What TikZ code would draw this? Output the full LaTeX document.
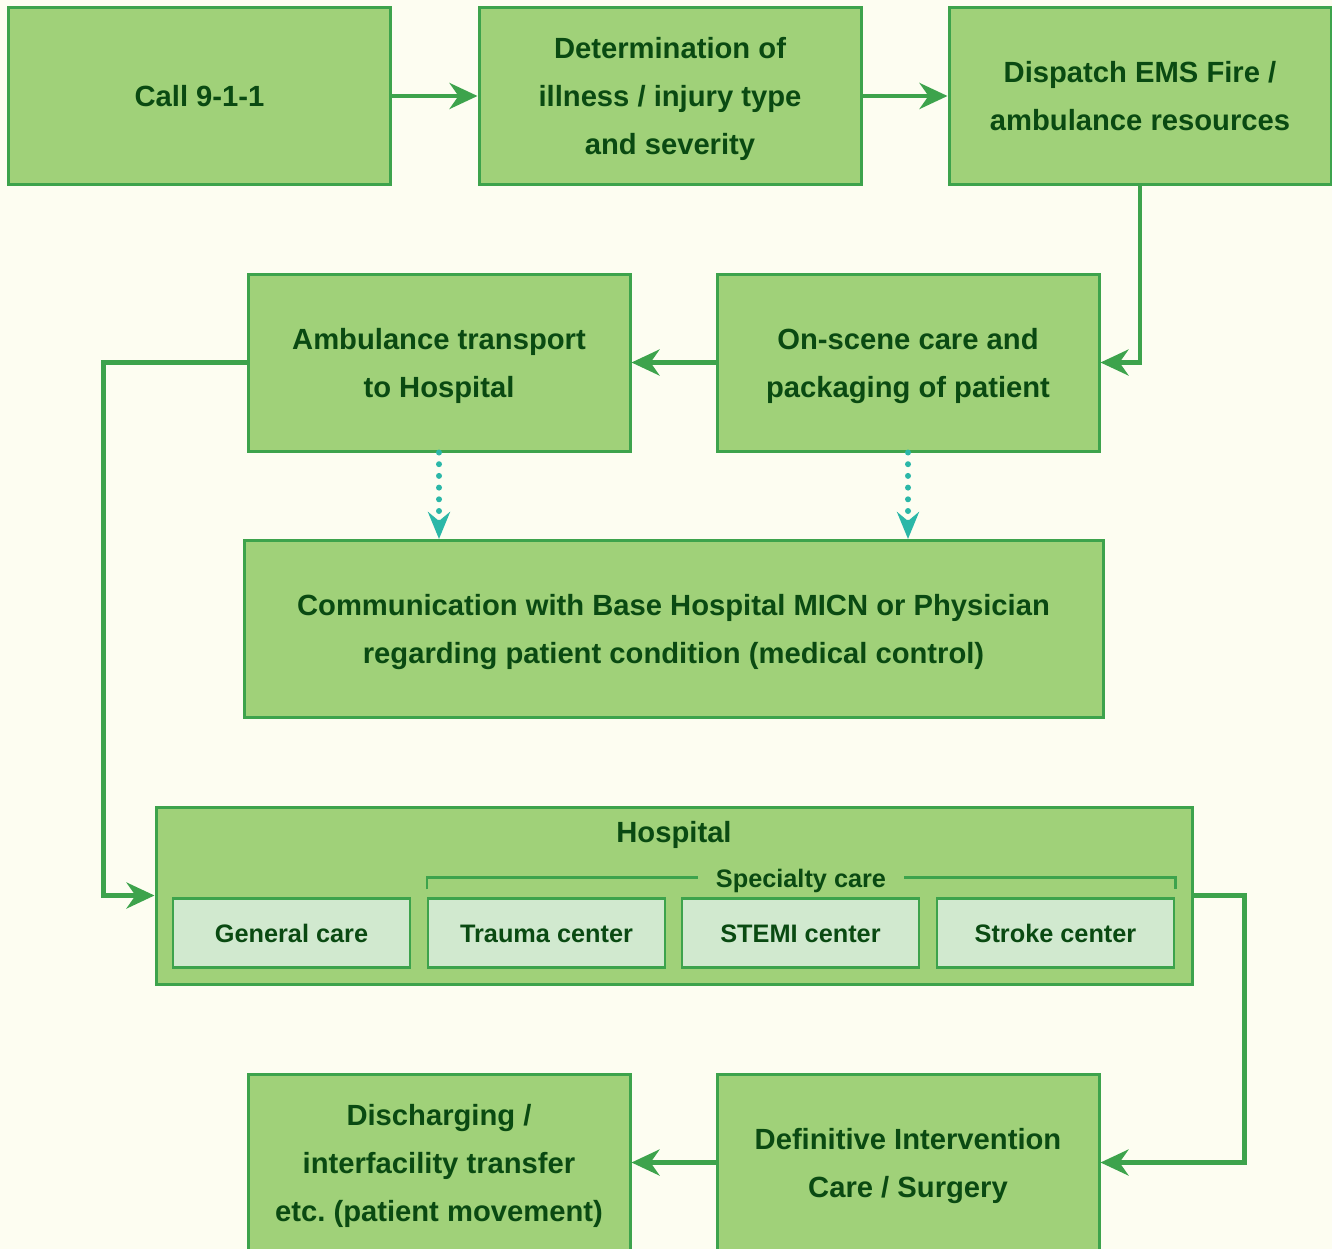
\documentclass[tikz,border=0pt]{standalone}
\usepackage{fontspec}
\setmainfont{Liberation Sans}
\usetikzlibrary{arrows.meta}
\definecolor{bg}{HTML}{FDFDF1}
\definecolor{boxfill}{HTML}{A0D179}
\definecolor{boxline}{HTML}{3DA34C}
\definecolor{txt}{HTML}{0A4A12}
\definecolor{subfill}{HTML}{D1E9CF}
\definecolor{tealc}{HTML}{2BB7A8}
\begin{document}
\begin{tikzpicture}[x=1pt,y=-1pt,
  box/.style={draw=boxline, line width=3pt, fill=boxfill, minimum width=382pt, minimum height=177pt,
    inner sep=0pt, text width=370pt, align=center, text=txt, font=\bfseries\fontsize{29.2}{48}\selectfont,
    execute at begin node={\frenchspacing\spaceskip=\fontdimen2\font\relax\xspaceskip=\fontdimen2\font\relax\rule{0pt}{28.5pt}},
    execute at end node={\rule[-7pt]{0pt}{7pt}}},
  subbox/.style={draw=boxline, line width=2.5pt, fill=subfill, minimum width=237pt, minimum height=69pt,
    inner sep=0pt, text=txt, font=\bfseries\fontsize{25.3}{30}\selectfont,
    text height=24pt, text depth=6pt},
  lbl/.style={text=txt, inner sep=0pt},
  flow/.style={draw=boxline, line width=4.5pt, -{Stealth[length=28pt,width=26pt,inset=9pt]}},
  dotflow/.style={draw=tealc, line width=6pt, line cap=round, dash pattern=on 0pt off 11.7pt,
    -{Stealth[length=27pt,width=22pt,inset=9pt]}}
]
\useasboundingbox (0,0) rectangle (1332,1249);
\fill[bg] (0,0) rectangle (1332,1249);

\node[box] (call) at (199.5,96) {Call 9-1-1};
\node[box] (det) at (670,96) {Determination of\\illness / injury type\\and severity};
\node[box] (disp) at (1140,96) {Dispatch EMS Fire /\\ambulance resources};
\node[box] (amb) at (439,362.5) {Ambulance transport\\to Hospital};
\node[box] (ons) at (908,362.5) {On-scene care and\\packaging of patient};
\node[box, minimum width=859pt, text width=840pt] (comm) at (673.5,629) {Communication with Base Hospital MICN or Physician\\regarding patient condition (medical control)};
\node[box, minimum width=1036pt, text width=1000pt, execute at begin node={}, execute at end node={}] (hosp) at (674,895.5) {};
\node[lbl, anchor=base, font=\bfseries\fontsize{29.2}{34}\selectfont] (hosptitle) at (674,842.5) {Hospital};
\node[subbox] (gen) at (291.5,933) {General care};
\node[subbox] (trauma) at (546.5,933) {Trauma center};
\node[subbox] (stemi) at (800.5,933) {STEMI center};
\node[subbox] (stroke) at (1055.5,933) {Stroke center};
\draw[boxline, line width=2.5pt] ([yshift=8pt]trauma.north west) -- ++(0,-12) coordinate (bl)
  -- (bl -| stroke.north east) coordinate (br) -- ([yshift=8pt]stroke.north east);
\node[lbl, fill=boxfill, inner xsep=18pt, inner ysep=0pt, text height=24pt, text depth=6pt,
  font=\bfseries\fontsize{25.3}{30}\selectfont] (spec) at (801,878) {Specialty care};
\node[box] (disc) at (439,1162.5) {Discharging /\\interfacility transfer\\etc. (patient movement)};
\node[box] (defi) at (908,1162.5) {Definitive Intervention\\Care / Surgery};

\draw[flow] (call.east) -- (det.west);
\draw[flow] (det.east) -- (disp.west);
\draw[flow] (disp.south) |- (ons.east);
\draw[flow] (ons.west) -- (amb.west -| amb.east);
\draw[flow] (amb.west) -- ++(-143,0) |- (hosp.west);
\draw[flow] (hosp.east) -- ++(51,0) |- (defi.east);
\draw[flow] (defi.west) -- (disc.east);
\draw[dotflow] (amb.south) -- (amb.south |- comm.north);
\draw[dotflow] (ons.south) -- (ons.south |- comm.north);
\end{tikzpicture}
\end{document}
